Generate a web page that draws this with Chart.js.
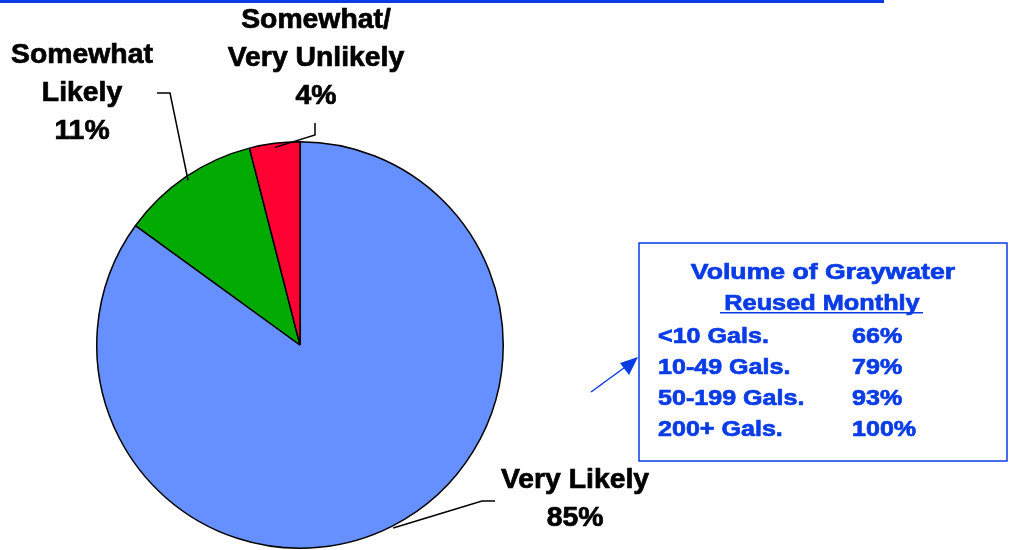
<!DOCTYPE html>
<html>
<head>
<meta charset="utf-8">
<script src="https://cdn.jsdelivr.net/npm/chart.js@4.4.1/dist/chart.umd.min.js"></script>
<style>
  html, body { margin: 0; padding: 0; background: #fff; }
  #wrap { position: relative; width: 1010px; height: 550px; }
</style>
</head>
<body>
<div id="wrap"><canvas id="chart-pie" width="1010" height="550"></canvas></div>
<script>
// likelihood of reusing graywater
const categories = ['Very Likely', 'Somewhat Likely', 'Somewhat/ Very Unlikely'];
const shares = [85, 11, 4];
const sliceColors = ['#6690ff', '#00aa00', '#ff0033'];

// callout box: volume reused monthly
const volumeLabels = ['<10 Gals.', '10-49 Gals.', '50-199 Gals.', '200+ Gals.'];
const volumeShares = [66, 79, 93, 100];

const BLUE = '#0a3ce6';
const FONT = "bold 27px 'Liberation Sans', Arial, sans-serif";
const BOX_FONT = "bold 22px 'Liberation Sans', Arial, sans-serif";

// label layout per slice: text anchor + leader elbow (r = where leader meets the rim)
const labelLayout = [
    { lines: ['Very Likely'], x: 575, y: 488, r: 1.01, elbow: [[482, 501], [495, 501]] },
    { lines: ['Somewhat', 'Likely'], x: 82, y: 63, r: 0.98, elbow: [[170, 93], [157, 93]] },
    { lines: ['Somewhat/', 'Very Unlikely'], x: 316, y: 28, r: 0.98, elbow: [[315, 135], [315, 123]] }
];

// bold-ish text, slightly stretched like the original slide
function stretchText(ctx, text, x, y, align, sx) {
    ctx.save();
    ctx.translate(x, y);
    ctx.scale(sx, 1);
    ctx.textAlign = align;
    ctx.lineWidth = 0.7;
    ctx.strokeStyle = ctx.fillStyle;
    ctx.fillText(text, 0, 0);
    ctx.strokeText(text, 0, 0);
    ctx.restore();
}

const decorations = {
    id: 'decorations',
    afterDatasetsDraw(chart) {
        const ctx = chart.ctx;
        const meta = chart.getDatasetMeta(0);

        // top rule
        ctx.fillStyle = BLUE;
        ctx.fillRect(0, 0, 884, 3);

        // slice labels with leaders
        ctx.font = FONT;
        ctx.textBaseline = 'alphabetic';
        meta.data.forEach((arc, i) => {
            const p = arc.getProps(['x', 'y', 'startAngle', 'endAngle', 'outerRadius'], true);
            const mid = (p.startAngle + p.endAngle) / 2;
            const lay = labelLayout[i];
            const r = p.outerRadius * lay.r;

            ctx.strokeStyle = '#000';
            ctx.lineWidth = 1.5;
            ctx.beginPath();
            ctx.moveTo(p.x + Math.cos(mid) * r, p.y + Math.sin(mid) * r);
            lay.elbow.forEach(pt => ctx.lineTo(pt[0], pt[1]));
            ctx.stroke();

            ctx.fillStyle = '#000';
            const lines = lay.lines.concat([shares[i] + '%']);
            lines.forEach((t, k) => stretchText(ctx, t, lay.x, lay.y + k * 38, 'center', 1.05));
        });

        // callout box
        const bx = 639, by = 243, bw = 368, bh = 218;
        ctx.strokeStyle = BLUE;
        ctx.lineWidth = 1.5;
        ctx.strokeRect(bx, by, bw, bh);

        // arrow into box
        ctx.beginPath();
        ctx.moveTo(591, 392);
        ctx.lineTo(628, 365);
        ctx.stroke();
        ctx.fillStyle = BLUE;
        ctx.beginPath();
        ctx.moveTo(638, 357);
        ctx.lineTo(620, 363);
        ctx.lineTo(629, 375);
        ctx.closePath();
        ctx.fill();

        ctx.font = BOX_FONT;
        ctx.fillStyle = BLUE;
        stretchText(ctx, 'Volume of Graywater', 823, 279, 'center', 1.21);
        stretchText(ctx, 'Reused Monthly', 822, 310, 'center', 1.15);
        ctx.fillRect(720, 312, 203, 1.5);
        volumeLabels.forEach((lab, i) => {
            const y = 343 + i * 31;
            stretchText(ctx, lab, 658, y, 'left', 1.14);
            stretchText(ctx, volumeShares[i] + '%', 852, y, 'left', 1.14);
        });
    }
};

new Chart(document.getElementById('chart-pie'), {
    type: 'pie',
    data: {
        labels: categories,
        datasets: [{
            data: shares,
            backgroundColor: sliceColors,
            borderColor: '#000',
            borderWidth: 1.5
        }]
    },
    options: {
        responsive: false,
        animation: false,
        layout: { padding: { left: 96, right: 506, top: 141, bottom: 1 } },
        plugins: {
            legend: { display: false },
            tooltip: { enabled: false }
        }
    },
    plugins: [decorations]
});
</script>
</body>
</html>
